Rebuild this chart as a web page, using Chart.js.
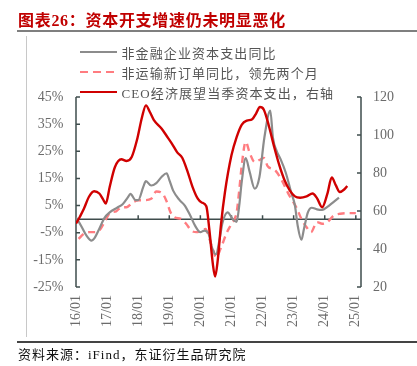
<!DOCTYPE html>
<html>
<head>
<meta charset="utf-8">
<script src="https://cdn.jsdelivr.net/npm/chart.js@4.4.1/dist/chart.umd.min.js"></script>
<style>
  html, body { margin: 0; padding: 0; background: #fff; }
  #wrap { position: relative; width: 417px; height: 366px; overflow: hidden; }
  #chart { position: absolute; left: 0; top: 0; }
  .title { position: absolute; left: 18px; top: 7px; line-height: 22px; white-space: nowrap;
           font: bold 16px "Liberation Serif", "Noto Sans CJK SC", serif; color: #c00000; letter-spacing: 0.7px; }
  .rule-top { position: absolute; left: 17px; right: 0; top: 30px; height: 2px; background: #7f7f7f; }
  .rule-left { position: absolute; left: 26px; top: 36px; width: 1px; height: 301px; background: #c8c8c8; }
  .rule-bottom { position: absolute; left: 17px; right: 0; top: 341px; height: 1.5px; background: #444; }
  .source { position: absolute; left: 18px; top: 344px; line-height: 18px; white-space: nowrap;
            font: 13px "Liberation Serif", "Noto Sans CJK SC", serif; color: #111; letter-spacing: 1px; }
  .legend { position: absolute; left: 80px; height: 20px; display: flex; align-items: center; white-space: nowrap;
            font: 13px "Liberation Serif", "Noto Sans CJK SC", serif; color: #555; letter-spacing: 1.1px; }
  .legend .swatch { width: 37px; margin-right: 4.5px; }
</style>
</head>
<body>
<div id="wrap">
  <canvas id="chart" width="417" height="366"></canvas>
  <div class="title">图表26：资本开支增速仍未明显恶化</div>
  <div class="rule-top"></div>
  <div class="rule-left"></div>
  <div class="legend" style="top:42px"><span class="swatch" style="height:2px;background:#8c8c8c"></span>非金融企业资本支出同比</div>
  <div class="legend" style="top:62px"><span class="swatch" style="height:2.5px;background:repeating-linear-gradient(90deg,#ff7c80 0 8px,transparent 8px 13px)"></span>非运输新订单同比，领先两个月</div>
  <div class="legend" style="top:82px"><span class="swatch" style="height:2.5px;background:#d00000"></span>CEO经济展望当季资本支出，右轴</div>
  <div class="rule-bottom"></div>
  <div class="source">资料来源：iFind，东证衍生品研究院</div>
</div>
<script>
// ----------------- Data -----------------
// x values are months counted from 2016/01
const xTickMonths = [0, 12, 24, 36, 48, 60, 72, 84, 96, 108];
const xTickLabels = ['16/01', '17/01', '18/01', '19/01', '20/01', '21/01', '22/01', '23/01', '24/01', '25/01'];

// 非金融企业资本支出同比 (%)
const capexMonths = [0, 2, 4, 6, 7, 9, 11, 13, 16, 18, 20, 21, 23, 24, 26, 27, 29, 31, 33, 35,
  36, 37.5, 40, 42, 44, 46, 48, 49.5, 51, 52.5, 54, 55.5, 56.5, 58.5, 60.5, 62, 63, 64, 65.5, 67,
  69, 70.8, 72.7, 75, 76, 77.5, 79, 81, 83, 84.5, 85.5, 87, 88, 89.5, 91, 93, 95, 97, 99, 101.5];
const capexYoY = [0.7, -2.5, -6, -7.9, -7.2, -3.5, 0.5, 2.5, 4.3, 5.5, 8, 9.3, 7, 7, 12, 14, 12.4, 13.3, 15.5, 16.9,
  14.5, 10.5, 7, 5, 1.5, -2.5, -4.8, -4.2, -5, -10.5, -13, -7, -1.5, 2.5, 0, -1, 5, 14, 22.5, 17.5,
  11.2, 15.5, 30, 40, 30, 25, 22, 17, 10, 5, -2, -7.6, -3.5, 2.5, 4.2, 3.6, 3.4, 4.5, 6, 7.9];

// 非运输新订单同比，领先两个月 (%)
const ordersMonths = [1, 3, 5, 7, 9, 11, 13, 15.5, 17.5, 19.5, 22, 24, 26.5, 29, 31, 33.5, 35, 36.5, 38, 40.5,
  42.5, 44.5, 46.5, 48.5, 50, 51.5, 53, 54, 56, 58, 60, 62, 63, 64, 65.5, 67, 69, 70.8, 72.5, 74,
  77, 79.5, 82, 85, 87, 89, 90.7, 93, 95, 97, 99.5, 102, 104.5, 108];
const ordersYoY = [-7.3, -5.4, -4.8, -4.8, -4.2, -1.1, 2.2, 2.9, 4.4, 4.4, 6.2, 6.9, 7, 7.5, 10.2, 9.3, 6.5, 2.5, 0.7, 0.1,
  -1.7, -4.2, -4.8, -4.2, -3.6, -7.3, -11.6, -14.1, -10.4, -5.4, -1.7, 2.5, 10.6, 20, 28.5, 24.5, 21, 21.8, 22.5, 19.5,
  17.9, 14.2, 9.3, 4.4, 0.1, -3, -4.8, -1.1, -1.7, -1.1, 1.3, 2, 2.2, 2.2];

// CEO经济展望当季资本支出 (右轴)
const ceoMonths = [0, 1.5, 3, 5, 7, 9, 10.5, 11.5, 13, 15, 17.5, 19.5, 21.5, 23.5, 25.5, 27, 28.5, 30, 33, 35,
  37, 39, 41, 43, 45, 47, 48.5, 50.3, 51.5, 52.8, 53.7, 54.7, 56, 57.5, 60, 62, 64, 66, 68, 69.5,
  71, 72.5, 74.5, 76.5, 78.5, 80.5, 82.5, 84.5, 86.5, 89, 91.3, 93, 95, 97, 98.7, 100.3, 101.8, 103.5, 104.7];
const ceoCapex = [53.4, 57, 61, 67.5, 70.4, 69.2, 66, 63.9, 72.6, 83, 87.2, 86.3, 88.4, 97.2, 109.5, 115.6, 112.1, 108, 103.4, 99.5,
  95.5, 91, 88, 81, 72.6, 66.5, 64.5, 62.5, 49.8, 32.3, 25.5, 34, 53.4, 70, 89.3, 98.9, 105.5, 107.6, 108.3, 111.3,
  114.7, 113.3, 104.5, 93.7, 84, 76.2, 70.9, 67.7, 67, 67.7, 69.2, 66.8, 62, 69, 77.6, 73.5, 70, 71.3, 73.2];

// ----------------- Styles -----------------
const axisColor = '#3f4d4d';
const tickColor = '#6b6b6b';
const tickFont = { family: '"Liberation Serif", serif', size: 14 };

const toPoints = (xs, ys) => xs.map((m, i) => ({ x: m, y: ys[i] }));

// axis lines, inward ticks and zero line
const axesFrame = {
    id: 'axesFrame',
    beforeDatasetsDraw(chart) {
        const { ctx, chartArea: a, scales } = chart;
        const y0 = scales.y.getPixelForValue(0);
        ctx.save();
        ctx.strokeStyle = axisColor;
        ctx.lineWidth = 1.5;
        ctx.beginPath();
        ctx.moveTo(a.left, a.top); ctx.lineTo(a.left, a.bottom);
        ctx.moveTo(a.right, a.top); ctx.lineTo(a.right, a.bottom);
        scales.y.ticks.forEach(t => {
            const py = scales.y.getPixelForValue(t.value);
            ctx.moveTo(a.left, py); ctx.lineTo(a.left + 4, py);
        });
        scales.y1.ticks.forEach(t => {
            const py = scales.y1.getPixelForValue(t.value);
            ctx.moveTo(a.right, py); ctx.lineTo(a.right - 4, py);
        });
        ctx.moveTo(a.left, y0); ctx.lineTo(a.right, y0);
        scales.x.ticks.forEach(t => {
            const px = scales.x.getPixelForValue(t.value);
            ctx.moveTo(px, y0); ctx.lineTo(px, y0 - 4);
        });
        ctx.stroke();
        ctx.restore();
    }
};

new Chart(document.getElementById('chart').getContext('2d'), {
    type: 'line',
    data: {
        datasets: [{
            label: 'CEO经济展望当季资本支出，右轴',
            data: toPoints(ceoMonths, ceoCapex),
            yAxisID: 'y1',
            borderColor: '#d00000',
            borderWidth: 2.4
        }, {
            label: '非金融企业资本支出同比',
            data: toPoints(capexMonths, capexYoY),
            yAxisID: 'y',
            borderColor: '#8c8c8c',
            borderWidth: 2.2
        }, {
            label: '非运输新订单同比，领先两个月',
            data: toPoints(ordersMonths, ordersYoY),
            yAxisID: 'y',
            borderColor: '#ff7c80',
            borderWidth: 2.4,
            borderDash: [7, 5]
        }]
    },
    options: {
        responsive: false,
        animation: false,
        layout: { padding: { top: 97 } },
        elements: {
            point: { radius: 0 },
            line: { cubicInterpolationMode: 'monotone', fill: false }
        },
        plugins: {
            legend: { display: false },
            tooltip: { enabled: false }
        },
        scales: {
            x: {
                type: 'linear',
                min: 0,
                max: 110,
                grid: { display: false, drawTicks: false },
                border: { display: false },
                afterBuildTicks: s => { s.ticks = xTickMonths.map(v => ({ value: v })); },
                afterFit: s => { s.height = 79; },
                ticks: {
                    autoSkip: false,
                    minRotation: 90,
                    maxRotation: 90,
                    padding: 8,
                    color: tickColor,
                    font: tickFont,
                    callback: v => xTickLabels[xTickMonths.indexOf(v)]
                }
            },
            y: {
                position: 'left',
                min: -25,
                max: 45,
                grid: { display: false, drawTicks: false },
                border: { display: false },
                afterFit: s => { s.width = 76; },
                ticks: { stepSize: 10, padding: 12.5, color: tickColor, font: tickFont, callback: v => v + '%' }
            },
            y1: {
                position: 'right',
                min: 20,
                max: 120,
                grid: { display: false, drawTicks: false },
                border: { display: false },
                afterFit: s => { s.width = 56; },
                ticks: { stepSize: 20, padding: 12, color: tickColor, font: tickFont }
            }
        }
    },
    plugins: [axesFrame]
});
</script>
</body>
</html>
